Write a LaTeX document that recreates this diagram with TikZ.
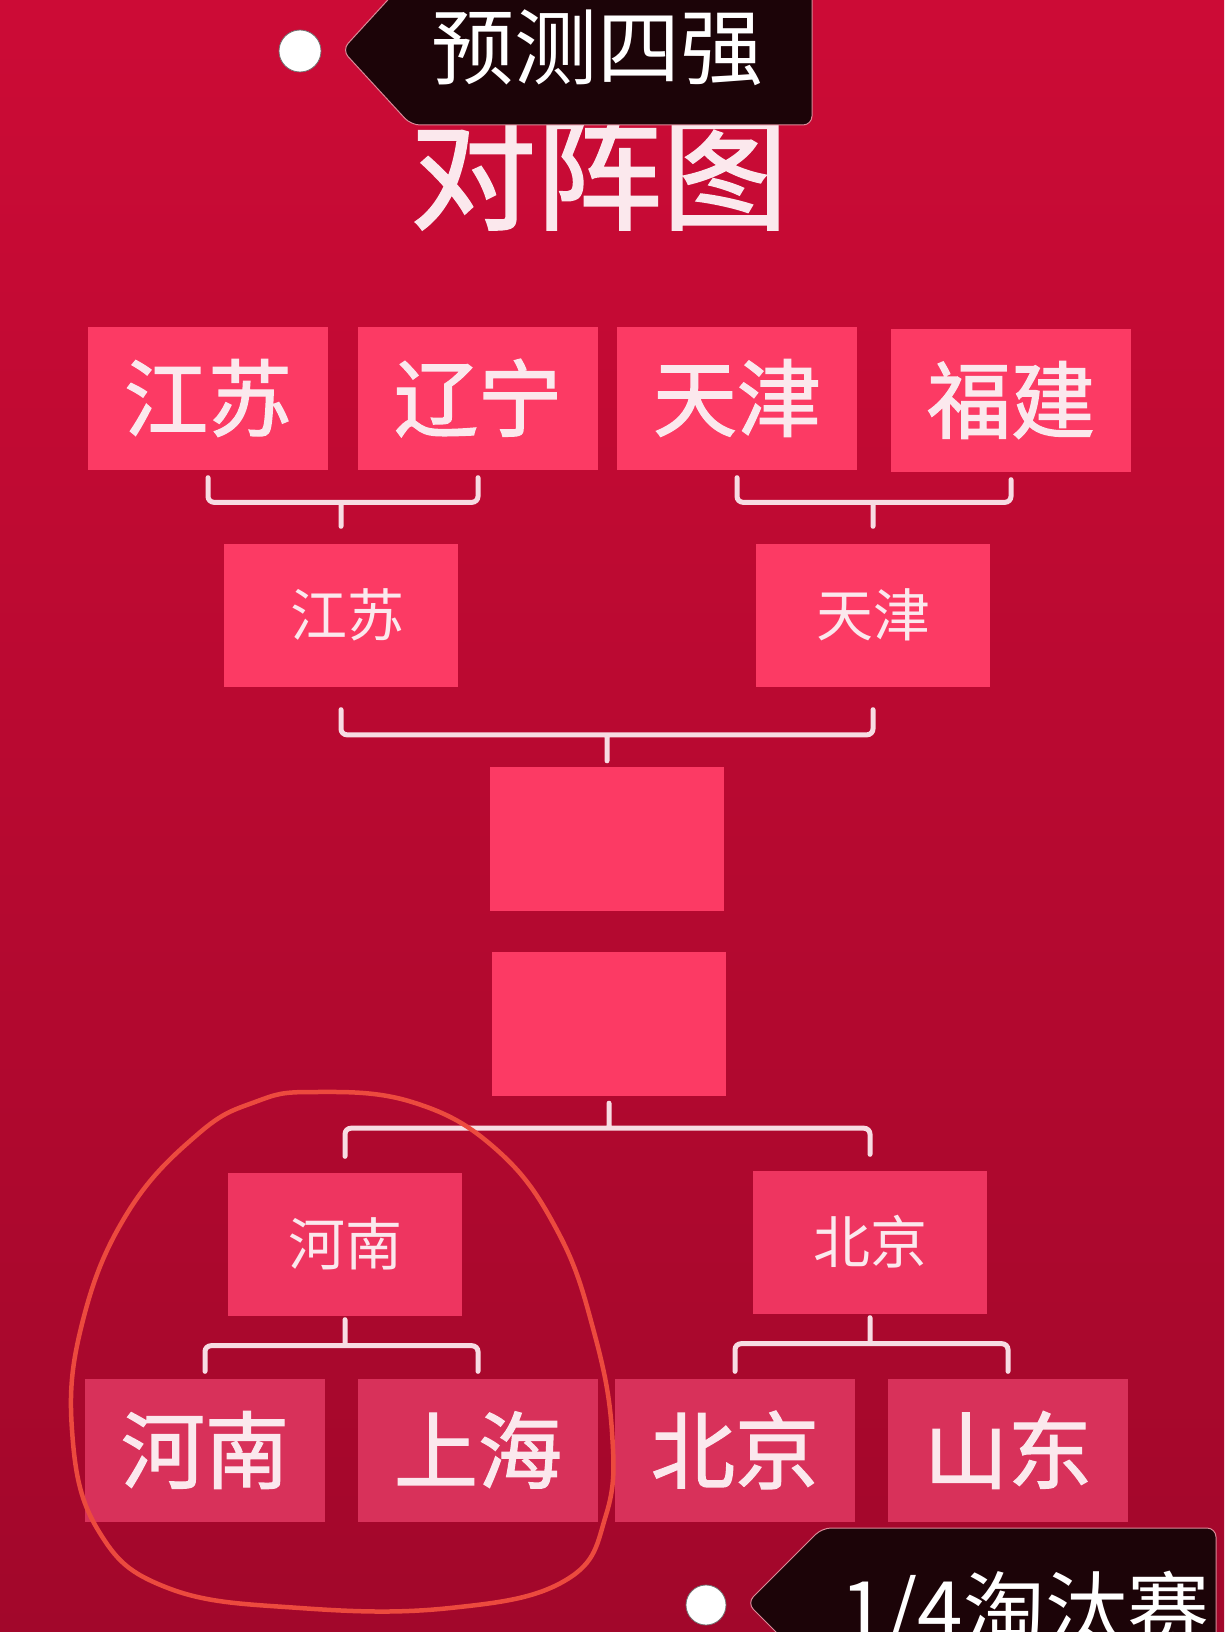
\documentclass[tikz,border=0pt]{standalone}
\usepackage{fontspec}
\newfontfamily\cjk{Noto Sans CJK SC}
\newfontfamily\cjkb{Noto Sans CJK SC}[FakeBold=1.6]
\usetikzlibrary{calc}
\definecolor{bgtop}{HTML}{CC0B36}
\definecolor{bgmid}{HTML}{C0092F}
\definecolor{bgbot}{HTML}{A2072B}
\definecolor{tile}{HTML}{FC3A64}
\definecolor{tilemid}{HTML}{EE3560}
\definecolor{tiledim}{HTML}{D8315A}
\definecolor{tagbg}{HTML}{1C0408}
\definecolor{tagedge}{HTML}{D98A98}
\definecolor{ink}{HTML}{FBE8ED}
\definecolor{brkline}{HTML}{F7DCE3}
\definecolor{pen}{HTML}{EC4A3E}
\tikzset{
  team/.style={fill=tile,minimum width=240pt,minimum height=143pt,inner sep=0,text=ink,font=\cjkb\fontsize{84pt}{90pt}\selectfont},
  winner/.style={team,minimum width=234pt,font=\cjk\fontsize{57pt}{60pt}\selectfont},
  blank/.style={fill=tile,minimum width=234pt,minimum height=144pt,inner sep=0},
  bracket/.style={draw=brkline,line width=5pt,rounded corners=6pt,line cap=round},
  tagshape/.style={fill=tagbg,draw=tagedge,line width=1pt,rounded corners=9pt},
  hole/.style={fill=white,draw=black!55,line width=0.8pt},
  tagtext/.style={text=white,inner sep=0,font=\cjk\fontsize{83pt}{90pt}\selectfont},
  headline/.style={text=ink,inner sep=0,font=\cjkb\fontsize{126pt}{130pt}\selectfont},
  ring/.style={draw=pen,line width=4.5pt},
}
\begin{document}
\begin{tikzpicture}[x=1pt,y=-1pt]
  \useasboundingbox (0,0) rectangle (1224,1632);
  \clip (0,0) rectangle (1224,1632);
  \shade[top color=bgtop,middle color=bgmid,bottom color=bgbot] (0,0) rectangle (1224,1632);

  \node[headline] (ttl) at (599,172) {对阵图};

  \node[team] (r1a) at (208,398) {江苏};
  \node[team] (r1b) at (478,398) {辽宁};
  \node[team] (r1c) at (737,398) {天津};
  \node[team] (r1d) at (1011,400) {福建};
  \node[winner] (r2a) at (341,615) {\hspace*{12pt}江苏};
  \node[winner] (r2b) at (873,615) {天津};
  \node[blank] (sf1) at (607,839) {};
  \node[blank] (sf2) at (609,1024) {};
  \node[winner,fill=tilemid] (r3a) at (345,1244) {河南};
  \node[winner,fill=tilemid] (r3b) at (870,1242) {北京};
  \node[team,fill=tiledim] (r4a) at (205,1450) {河南};
  \node[team,fill=tiledim] (r4b) at (478,1450) {上海};
  \node[team,fill=tiledim] (r4c) at (735,1450) {北京};
  \node[team,fill=tiledim] (r4d) at (1008,1450) {山东};

  \foreach \a/\b/\w/\g/\h/\s in {r1a/r1b/r2a/8/41/17, r1c/r1d/r2b/8/41/17, r2a/r2b/sf1/23/32/6}
    \draw[bracket] ([yshift=-\g pt]\a.south) |- ([yshift=\h pt]\w.north) -| ([yshift=-\g pt]\b.south)
                   ([yshift=\h pt]\w.north) -- ([yshift=\s pt]\w.north);
  \foreach \w/\a/\b/\s/\h/\g in {sf2/r3a/r3b/7/32/16, r3a/r4a/r4b/4/30/7, r3b/r4c/r4d/4/30/7}
    \draw[bracket] ([yshift=\g pt]\a.north) |- ([yshift=-\h pt]\w.south) -| ([yshift=\g pt]\b.north)
                   ([yshift=-\h pt]\w.south) -- ([yshift=-\s pt]\w.south);

  \draw[ring] plot[smooth cycle,tension=0.7] coordinates {(312,1092) (412,1102) (497,1150) (558,1232) (594,1332) (612,1432) (606,1515) (566,1580) (450,1608) (300,1608) (168,1588) (98,1530) (72,1430) (83,1320) (128,1212) (198,1134) (255,1102)};

  \draw[tagshape] (406,-20) -- (342,50) -- (411,125) -- (812,125) -- (812,-20) -- cycle;
  \draw[hole] (300,51) circle (21pt);
  \node[tagtext] (hd) at (597,48) {预测四强};

  \draw[tagshape] (804,1660) -- (747,1603) -- (822,1528) -- (1216,1528) -- (1216,1660) -- cycle;
  \draw[hole] (706,1605) circle (20pt);
  \node[tagtext,font=\cjk\fontsize{82pt}{86pt}\selectfont,anchor=base west] (ft) at (840,1640) {1/4淘汰赛};
\end{tikzpicture}
\end{document}
